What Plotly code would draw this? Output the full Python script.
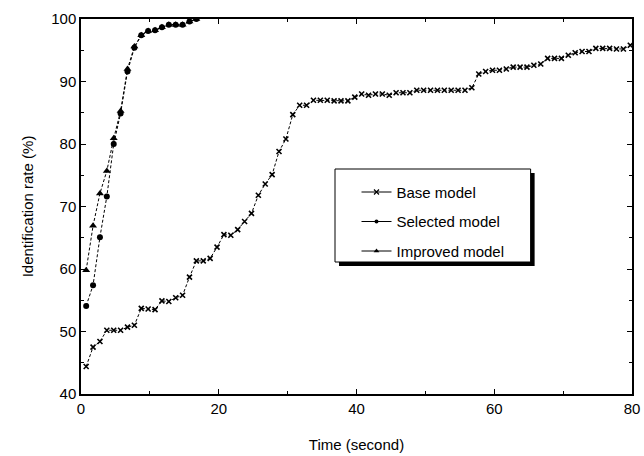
import plotly.graph_objects as go

# ---- data ----
time_base = [round(0.75 + i, 2) for i in range(80)]
base_model = [44.4, 47.5, 48.4, 50.2, 50.2, 50.2, 50.7, 51.0, 53.7, 53.6,
              53.5, 54.9, 54.8, 55.4, 55.8, 58.7, 61.3, 61.3, 61.7, 63.5,
              65.5, 65.4, 66.3, 67.6, 68.9, 71.8, 73.6, 75.1, 78.8, 80.8,
              84.7, 86.2, 86.2, 87.0, 87.0, 87.0, 86.9, 86.9, 86.9, 87.5,
              88.0, 87.8, 88.0, 88.0, 87.8, 88.2, 88.2, 88.2, 88.6, 88.6,
              88.6, 88.6, 88.6, 88.6, 88.6, 88.6, 89.0, 91.2, 91.6, 91.8,
              91.8, 92.0, 92.3, 92.3, 92.3, 92.6, 92.8, 93.7, 93.7, 93.7,
              94.2, 94.6, 94.8, 94.8, 95.3, 95.3, 95.3, 95.2, 95.2, 95.8]

time_fast = [round(0.75 + i, 2) for i in range(17)]
selected_model = [54.1, 57.4, 65.1, 71.6, 80.0, 84.9, 91.6, 95.4, 97.4, 98.1,
                  98.2, 98.7, 99.1, 99.1, 99.1, 99.6, 100.0]
improved_model = [59.8, 66.9, 72.1, 75.7, 80.9, 85.3, 92.0, 95.6, 97.4, 98.1,
                  98.2, 98.7, 99.1, 99.1, 99.1, 99.6, 100.0]

x_ticks = [0, 20, 40, 60, 80]
y_ticks = [40, 50, 60, 70, 80, 90, 100]
names = ["Base model", "Selected model", "Improved model"]

FONT = "Liberation Sans, Arial, sans-serif"
DASH = "3px,2px"

fig = go.Figure()

# data traces (dashed)
fig.add_trace(go.Scatter(x=time_base, y=base_model, mode="lines+markers",
                         line=dict(color="black", width=1, dash=DASH),
                         marker=dict(symbol="x-thin", size=5, color="black",
                                     line=dict(width=1.6, color="black")),
                         showlegend=False))
fig.add_trace(go.Scatter(x=time_fast, y=selected_model, mode="lines+markers",
                         line=dict(color="black", width=1, dash=DASH),
                         marker=dict(symbol="circle", size=6, color="black"),
                         showlegend=False))
fig.add_trace(go.Scatter(x=time_fast, y=improved_model, mode="lines+markers",
                         line=dict(color="black", width=1, dash=DASH),
                         marker=dict(symbol="triangle-up", size=7, color="black"),
                         showlegend=False))

# legend entries (solid line samples)
leg_markers = [dict(symbol="x-thin", size=5, color="black", line=dict(width=1.2, color="black")),
               dict(symbol="circle", size=4, color="black"),
               dict(symbol="triangle-up", size=5, color="black")]
for i, (nm, mk) in enumerate(zip(names, leg_markers)):
    fig.add_trace(go.Scatter(x=[None], y=[None], mode="lines+markers", name=nm,
                             legendgroup=f"g{i}",
                             line=dict(color="black", width=1), marker=mk))

# legend box with shadow
bx0, bx1, by0, by1 = 0.461, 0.816, 0.352, 0.600
sx, sy = 4 / 551, 4 / 375
fig.add_shape(type="rect", xref="paper", yref="paper",
              x0=bx0 + sx, x1=bx1 + sx, y0=by0 - sy, y1=by1 - sy,
              fillcolor="black", line=dict(width=0), layer="above")
fig.add_shape(type="rect", xref="paper", yref="paper",
              x0=bx0, x1=bx1, y0=by0, y1=by1,
              fillcolor="white", line=dict(color="black", width=1), layer="above")

axis_common = dict(showline=True, linecolor="black", linewidth=1.5, mirror="ticks",
                   ticks="inside", ticklen=5, tickwidth=1, tickcolor="black",
                   showgrid=False, zeroline=False, automargin=False,
                   tickfont=dict(family=FONT, size=15, color="black"))

fig.update_xaxes(range=[0, 80], tickvals=x_ticks,
                 title=dict(text="Time (second)", font=dict(family=FONT, size=15, color="black"),
                            standoff=24),
                 minor=dict(dtick=10, ticks="inside", ticklen=3, tickcolor="black"),
                 **axis_common)
fig.update_yaxes(range=[40, 100], tickvals=y_ticks,
                 title=dict(text="Identification rate (%)", font=dict(family=FONT, size=15, color="black"),
                            standoff=14),
                 minor=dict(dtick=5, ticks="inside", ticklen=3, tickcolor="black"),
                 **axis_common)

fig.update_layout(
    width=644, height=456,
    margin=dict(l=81, r=12, t=19, b=62),
    paper_bgcolor="white", plot_bgcolor="white",
    font=dict(family=FONT, size=15, color="black"),
    showlegend=True,
    legend=dict(x=0.50, y=0.582, xanchor="left", yanchor="top",
                bgcolor="rgba(0,0,0,0)", borderwidth=0,
                traceorder="grouped", tracegroupgap=7, itemwidth=30,
                font=dict(family=FONT, size=15, color="black")),
)

fig.write_html("out.html",
               config={"displayModeBar": False},
               post_script="document.body.style.margin='0';document.body.style.overflow='hidden';")
